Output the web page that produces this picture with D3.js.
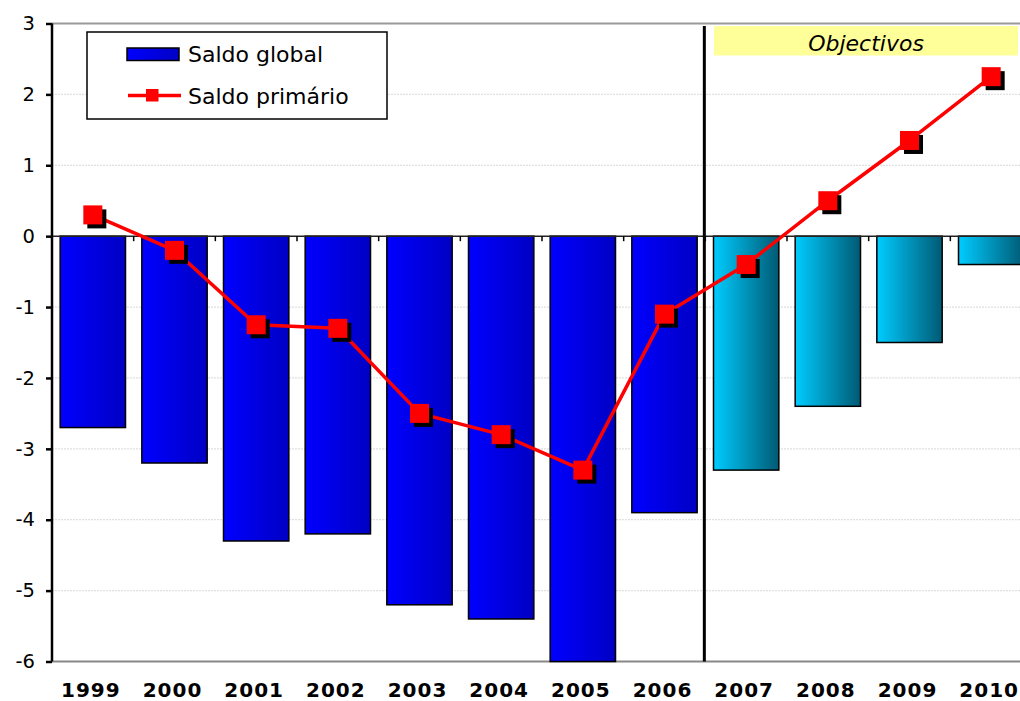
<!DOCTYPE html>
<html>
<head>
<meta charset="utf-8">
<script src="https://cdn.jsdelivr.net/npm/d3@7/dist/d3.min.js"></script>
<style>
  html, body { margin: 0; padding: 0; background: #fff; }
  svg { display: block; }
</style>
</head>
<body>
<svg id="chart" width="1020" height="701"></svg>
<script>
// ---- data ----
const years = ["1999","2000","2001","2002","2003","2004","2005","2006","2007","2008","2009","2010"];
const saldoGlobal = [-2.7, -3.2, -4.3, -4.2, -5.2, -5.4, -6.0, -3.9, -3.3, -2.4, -1.5, -0.4];
const saldoPrimario = [0.3, -0.2, -1.25, -1.3, -2.5, -2.8, -3.3, -1.1, -0.4, 0.5, 1.35, 2.25];
const objectiveYears = ["2007","2008","2009","2010"];
const yTicks = [-6, -5, -4, -3, -2, -1, 0, 1, 2, 3];
const seriesNames = ["Saldo global", "Saldo primário"];
const objectiveLabel = "Objectivos";

// ---- setup ----
const svg = d3.select("#chart");
const font = "'DejaVu Sans', Verdana, sans-serif";

const defs = svg.append("defs");
const gBlue = defs.append("linearGradient").attr("id", "gBlue")
  .attr("x1", "0%").attr("x2", "100%").attr("y1", "0%").attr("y2", "0%");
gBlue.append("stop").attr("offset", "0%").attr("stop-color", "#0000ff");
gBlue.append("stop").attr("offset", "100%").attr("stop-color", "#0000c4");
const gCyan = defs.append("linearGradient").attr("id", "gCyan")
  .attr("x1", "0%").attr("x2", "100%").attr("y1", "0%").attr("y2", "0%");
gCyan.append("stop").attr("offset", "0%").attr("stop-color", "#00ccff");
gCyan.append("stop").attr("offset", "100%").attr("stop-color", "#005a74");

const x = d3.scaleBand().domain(years).range([52, 1032]).paddingInner(0.2).paddingOuter(0.1);
const y = d3.scaleLinear().domain([-6, 3]).range([661.5, 23.5]);
const step = x.step();
const boundary = d => x(d) - step * x.paddingInner() / 2;
const xRight = 1020;

// gridlines
svg.append("g").selectAll("line")
  .data(yTicks.filter(t => t !== 0 && t !== 3 && t !== -6))
  .join("line")
  .attr("x1", 52).attr("x2", xRight)
  .attr("y1", d => y(d)).attr("y2", d => y(d))
  .attr("stroke", "#e0e0e0").attr("stroke-width", 1.2)
  .attr("stroke-dasharray", "2,1");

// top and bottom border lines
svg.append("line").attr("x1", 52).attr("x2", xRight)
  .attr("y1", y(3)).attr("y2", y(3)).attr("stroke", "#999").attr("stroke-width", 2);
svg.append("line").attr("x1", 52).attr("x2", xRight)
  .attr("y1", y(-6)).attr("y2", y(-6)).attr("stroke", "#888").attr("stroke-width", 2.2);

// bars
const barData = years.map((yr, i) => ({ yr, v: saldoGlobal[i] }));
svg.append("g").selectAll("rect")
  .data(barData)
  .join("rect")
  .attr("x", d => x(d.yr))
  .attr("width", x.bandwidth())
  .attr("y", d => y(Math.max(0, d.v)))
  .attr("height", d => Math.abs(y(d.v) - y(0)))
  .attr("fill", d => objectiveYears.includes(d.yr) ? "url(#gCyan)" : "url(#gBlue)")
  .attr("stroke", "#000").attr("stroke-width", 1.5);

// zero line
svg.append("line").attr("x1", 52).attr("x2", xRight)
  .attr("y1", y(0)).attr("y2", y(0)).attr("stroke", "#222").attr("stroke-width", 1.5);

// category ticks at boundaries on zero line
svg.append("g").selectAll("line")
  .data(years.slice(1))
  .join("line")
  .attr("x1", d => boundary(d)).attr("x2", d => boundary(d))
  .attr("y1", y(0)).attr("y2", y(0) + 5)
  .attr("stroke", "#000").attr("stroke-width", 1.5);

// vertical separator before objectives
const sepX = boundary(objectiveYears[0]) - 1;
svg.append("line").attr("x1", sepX).attr("x2", sepX)
  .attr("y1", 26).attr("y2", y(-6))
  .attr("stroke", "#000").attr("stroke-width", 3);

// Objectivos box
svg.append("rect").attr("x", 714).attr("y", 26).attr("width", 304).attr("height", 29.5)
  .attr("fill", "#ffff99");
svg.append("text").attr("x", 866).attr("y", 51)
  .attr("text-anchor", "middle")
  .attr("font-family", font).attr("font-style", "italic").attr("font-size", 22)
  .attr("fill", "#000").text(objectiveLabel);

// line series
const lineData = years.map((yr, i) => ({ yr, v: saldoPrimario[i] }));
const cx = d => x(d.yr) + x.bandwidth() / 2;
const line = d3.line().x(cx).y(d => y(d.v));
svg.append("path").datum(lineData)
  .attr("d", line).attr("fill", "none")
  .attr("stroke", "#ff0000").attr("stroke-width", 3.5).attr("stroke-linejoin", "round");

const ms = 19;
const mg = svg.append("g");
mg.selectAll("rect.shadow")
  .data(lineData)
  .join("rect").attr("class", "shadow")
  .attr("x", d => cx(d) - ms / 2 + 4).attr("y", d => y(d.v) - ms / 2 + 4)
  .attr("width", ms).attr("height", ms).attr("fill", "#000");
mg.selectAll("rect.mark")
  .data(lineData)
  .join("rect").attr("class", "mark")
  .attr("x", d => cx(d) - ms / 2).attr("y", d => y(d.v) - ms / 2)
  .attr("width", ms).attr("height", ms).attr("fill", "#ff0000");

// y axis
const yAxis = d3.axisLeft(y).tickValues(yTicks).tickSize(6).tickPadding(11)
  .tickFormat(d => String(d));
const ya = svg.append("g").attr("transform", "translate(52,0)").call(yAxis);
ya.select(".domain").attr("stroke", "#000").attr("stroke-width", 2.5)
  .attr("d", `M0,${y(3)}V${y(-6)}`);
ya.selectAll(".tick line").attr("stroke", "#000").attr("stroke-width", 2.5);
ya.selectAll(".tick text").attr("font-family", font).attr("font-size", 19.5).attr("fill", "#000");

// x labels
const xAxis = d3.axisBottom(x).tickSize(0).tickPadding(0);
const xa = svg.append("g").attr("transform", "translate(-2,683)").call(xAxis);
xa.select(".domain").remove();
xa.selectAll(".tick text").attr("font-family", font).attr("font-weight", "bold")
  .attr("font-size", 20).attr("letter-spacing", 1).attr("fill", "#000").attr("dy", "0.72em");

// legend
const lg = svg.append("g");
lg.append("rect").attr("x", 87).attr("y", 32).attr("width", 300).attr("height", 87)
  .attr("fill", "#fff").attr("stroke", "#000").attr("stroke-width", 1.5);
lg.append("rect").attr("x", 127).attr("y", 48).attr("width", 52).attr("height", 12.5)
  .attr("fill", "url(#gBlue)").attr("stroke", "#000").attr("stroke-width", 1.5);
lg.append("line").attr("x1", 128).attr("x2", 181).attr("y1", 95.5).attr("y2", 95.5)
  .attr("stroke", "#ff0000").attr("stroke-width", 3.5);
lg.append("rect").attr("x", 146).attr("y", 89).attr("width", 12.5).attr("height", 12.5)
  .attr("fill", "#ff0000");
lg.selectAll("text").data(seriesNames).join("text")
  .attr("x", 188).attr("y", (d, i) => i === 0 ? 62 : 104)
  .attr("font-family", font).attr("font-size", 22).attr("fill", "#000")
  .text(d => d);
</script>
</body>
</html>
